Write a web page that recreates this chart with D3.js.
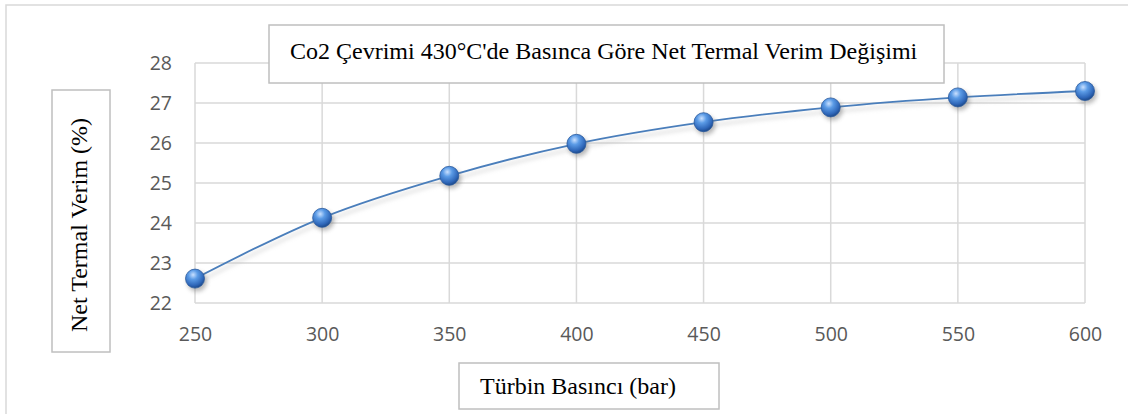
<!DOCTYPE html>
<html>
<head>
<meta charset="utf-8">
<script src="https://cdn.jsdelivr.net/npm/d3@7"></script>
<style>
  body { margin: 0; background: #fff; }
  svg { display: block; }
  .serif { font-family: "Liberation Serif", "Times New Roman", Tinos, Times, "DejaVu Serif", serif; }
</style>
</head>
<body>
<div id="chart"></div>
<script>
const pressures = [250, 300, 350, 400, 450, 500, 550, 600];
const efficiency = [22.61, 24.13, 25.18, 25.98, 26.52, 26.89, 27.14, 27.30];
const xTicks = [250, 300, 350, 400, 450, 500, 550, 600];
const yTicks = [22, 23, 24, 25, 26, 27, 28];

const titleText = "Co2 Çevrimi 430°C'de Basınca Göre Net Termal Verim Değişimi";
const xLabel = "Türbin Basıncı (bar)";
const yLabel = "Net Termal Verim (%)";

const W = 1128, H = 414;
const plot = {left: 195, right: 1085, top: 63, bottom: 303};
const gridColor = "#d9d9d9";
const lineColor = "#4a7ebb";

const svg = d3.select("#chart").append("svg")
    .attr("width", W)
    .attr("height", H);

const defs = svg.append("defs");
const grad = defs.append("radialGradient")
    .attr("id", "ball")
    .attr("cx", "40%").attr("cy", "30%").attr("r", "70%");
grad.append("stop").attr("offset", "0%").attr("stop-color", "#c9e0ff");
grad.append("stop").attr("offset", "35%").attr("stop-color", "#5b9be6");
grad.append("stop").attr("offset", "80%").attr("stop-color", "#2e66b8");
grad.append("stop").attr("offset", "100%").attr("stop-color", "#1d4a8c");

const blur = defs.append("filter").attr("id", "shadow")
    .attr("x", "-50%").attr("y", "-50%").attr("width", "200%").attr("height", "200%");
blur.append("feGaussianBlur").attr("stdDeviation", 2);

// outer chart border
svg.append("rect")
    .attr("x", 6).attr("y", 5)
    .attr("width", W).attr("height", H)
    .attr("fill", "none")
    .attr("stroke", gridColor)
    .attr("stroke-width", 1.5);

const x = d3.scaleLinear().domain([250, 600]).range([plot.left, plot.right]);
const y = d3.scaleLinear().domain([22, 28]).range([plot.bottom, plot.top]);

// gridlines
svg.append("g").selectAll("line.h").data(yTicks).enter()
    .append("line")
    .attr("x1", plot.left).attr("x2", plot.right)
    .attr("y1", d => y(d)).attr("y2", d => y(d))
    .attr("stroke", gridColor).attr("stroke-width", 1.5);

svg.append("g").selectAll("line.v").data(xTicks).enter()
    .append("line")
    .attr("x1", d => x(d)).attr("x2", d => x(d))
    .attr("y1", plot.top).attr("y2", plot.bottom)
    .attr("stroke", gridColor).attr("stroke-width", 1.5);

// tick labels
const xAxis = svg.append("g")
    .attr("transform", `translate(0,${plot.bottom})`)
    .call(d3.axisBottom(x).tickValues(xTicks).tickFormat(d3.format("d")).tickSize(0).tickPadding(19));
const yAxis = svg.append("g")
    .attr("transform", `translate(${plot.left},0)`)
    .call(d3.axisLeft(y).tickValues(yTicks).tickFormat(d3.format("d")).tickSize(0).tickPadding(23));

[xAxis, yAxis].forEach(a => {
    a.select(".domain").remove();
    a.selectAll("text")
        .attr("fill", "#595959")
        .style("font-family", "'Open Sans', 'Liberation Sans', sans-serif")
        .style("font-size", "19.5px");
});
xAxis.selectAll("text").attr("dy", "0.95em");

// series
const pts = pressures.map((p, i) => [x(p), y(efficiency[i])]);
const line = d3.line().curve(d3.curveCatmullRom.alpha(0.5));

svg.append("path")
    .attr("d", line(pts))
    .attr("transform", "translate(2,4)")
    .attr("fill", "none")
    .attr("stroke", "#bbb")
    .attr("stroke-width", 2.5)
    .attr("opacity", 0.5)
    .attr("filter", "url(#shadow)");

svg.append("path")
    .attr("d", line(pts))
    .attr("fill", "none")
    .attr("stroke", lineColor)
    .attr("stroke-width", 1.8);

const markers = svg.append("g");
markers.selectAll("circle.sh").data(pts).enter()
    .append("circle")
    .attr("cx", d => d[0] + 2).attr("cy", d => d[1] + 3)
    .attr("r", 10)
    .attr("fill", "#666")
    .attr("opacity", 0.45)
    .attr("filter", "url(#shadow)");
markers.selectAll("circle.pt").data(pts).enter()
    .append("circle")
    .attr("cx", d => d[0]).attr("cy", d => d[1])
    .attr("r", 9.5)
    .attr("fill", "url(#ball)")
    .attr("stroke", "#2a5a9e")
    .attr("stroke-width", 0.8);

// text boxes
function textBox(bx, by, bw, bh) {
    return svg.append("rect")
        .attr("x", bx).attr("y", by)
        .attr("width", bw).attr("height", bh)
        .attr("fill", "#fff")
        .attr("stroke", "#bfbfbf")
        .attr("stroke-width", 1.5);
}

textBox(269, 25, 675, 58);
svg.append("text")
    .attr("class", "serif")
    .attr("x", 290).attr("y", 59)
    .attr("fill", "#000")
    .style("font-size", "24px")
    .text(titleText);

textBox(52, 90, 58, 262);
svg.append("text")
    .attr("class", "serif")
    .attr("transform", "translate(87,332) rotate(-90)")
    .attr("fill", "#000")
    .style("font-size", "24px")
    .text(yLabel);

textBox(459, 363, 260, 46);
svg.append("text")
    .attr("class", "serif")
    .attr("x", 480).attr("y", 394)
    .attr("fill", "#000")
    .style("font-size", "24px")
    .text(xLabel);
</script>
</body>
</html>
